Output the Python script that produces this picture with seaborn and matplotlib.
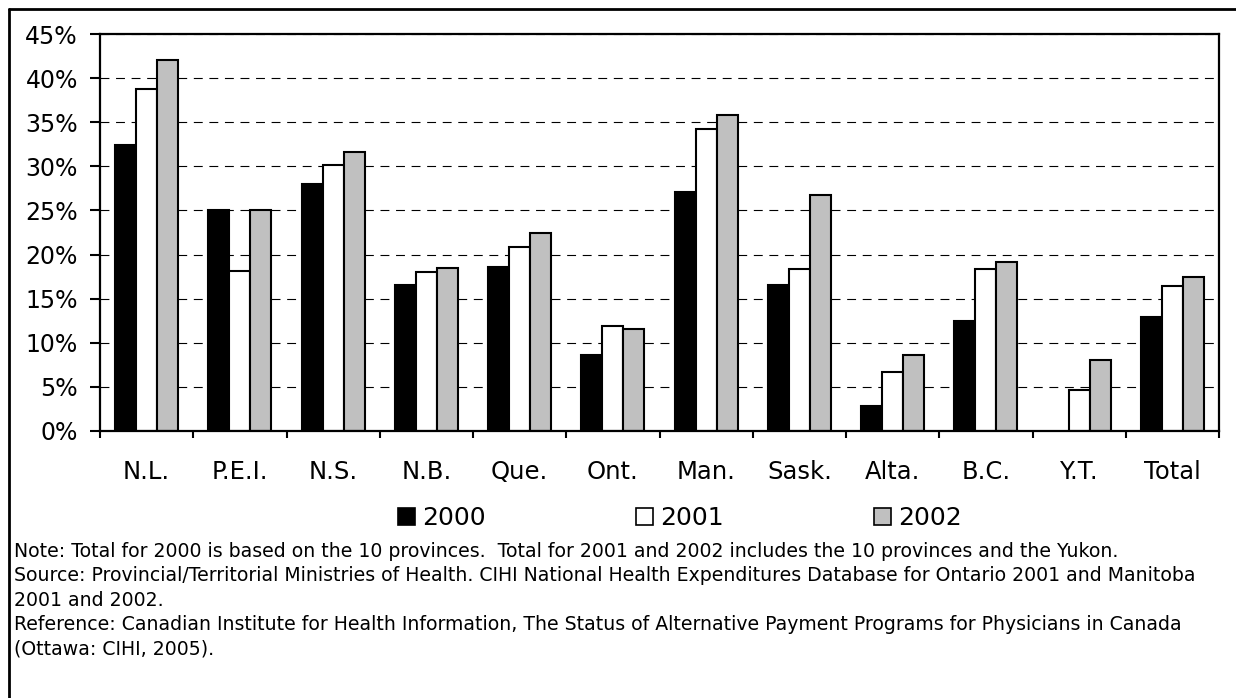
import numpy as np
import pandas as pd
import matplotlib
matplotlib.use("Agg")
import matplotlib.pyplot as plt
import seaborn as sns
from matplotlib.patches import Patch
from matplotlib.lines import Line2D
from matplotlib.ticker import FixedLocator, FuncFormatter

# ---- data ----
categories = ["N.L.", "P.E.I.", "N.S.", "N.B.", "Que.", "Ont.", "Man.",
              "Sask.", "Alta.", "B.C.", "Y.T.", "Total"]
years = ["2000", "2001", "2002"]
values_2000 = [32.4, 25.0, 28.0, 16.6, 18.6, 8.6, 27.1, 16.5, 2.8, 12.5, np.nan, 12.9]
values_2001 = [38.8, 18.1, 30.2, 18.0, 20.8, 11.9, 34.2, 18.4, 6.7, 18.4, 4.7, 16.4]
values_2002 = [42.1, 25.0, 31.6, 18.5, 22.5, 11.6, 35.8, 26.7, 8.6, 19.2, 8.0, 17.4]
y_ticks = [0, 5, 10, 15, 20, 25, 30, 35, 40, 45]
notes = [
    "Note: Total for 2000 is based on the 10 provinces.  Total for 2001 and 2002 includes the 10 provinces and the Yukon.",
    "Source: Provincial/Territorial Ministries of Health. CIHI National Health Expenditures Database for Ontario 2001 and Manitoba",
    "2001 and 2002.",
    "Reference: Canadian Institute for Health Information, The Status of Alternative Payment Programs for Physicians in Canada",
    "(Ottawa: CIHI, 2005).",
]
colors = {"2000": "#000000", "2001": "#FFFFFF", "2002": "#C0C0C0"}

df = pd.DataFrame({
    "Province": categories * 3,
    "Year": [y for y in years for _ in categories],
    "Value": values_2000 + values_2001 + values_2002,
})

sns.set_theme(style="white")
plt.rcParams["font.family"] = ["DejaVu Sans"]
plt.rcParams["text.color"] = "black"

W, H = 1236, 698
fig = plt.figure(figsize=(W / 100, H / 100), dpi=100)
ax = fig.add_axes([100 / W, (H - 431) / H, 1119 / W, 397 / H])

sns.barplot(data=df, x="Province", y="Value", hue="Year", order=categories,
            hue_order=years, palette=colors, saturation=1, edgecolor="black",
            linewidth=1.5, width=0.675, errorbar=None, legend=False, ax=ax)

ax.set_xlim(-0.5, len(categories) - 0.5)
ax.set_ylim(0, 45)
ax.set_xlabel("")
ax.set_ylabel("")

ax.yaxis.set_major_locator(FixedLocator(y_ticks))
ax.yaxis.set_major_formatter(FuncFormatter(lambda v, p: f"{int(v)}%"))
ax.set_axisbelow(True)
ax.yaxis.grid(True, linestyle=(0, (8, 6)), color="black", linewidth=0.8)
ax.xaxis.grid(False)

for s in ax.spines.values():
    s.set_color("black")
    s.set_linewidth(1.6)
    s.set_visible(True)

ax.tick_params(axis="y", which="major", direction="out", length=7, width=1.5,
               color="black", labelsize=17, pad=9, left=True)
ax.xaxis.set_minor_locator(FixedLocator(np.arange(-0.5, len(categories), 1.0)))
ax.tick_params(axis="x", which="major", length=0, labelsize=17.5, pad=21)
ax.tick_params(axis="x", which="minor", direction="out", length=5, width=1.5,
               color="black", bottom=True)
for lbl in ax.get_xticklabels() + ax.get_yticklabels():
    lbl.set_color("black")

handles = [Patch(facecolor=colors[y], edgecolor="black", linewidth=1.2, label=y)
           for y in years]
leg = fig.legend(handles=handles, labels=years, ncol=3, loc="center",
                 bbox_to_anchor=(680 / W, 1 - 518 / H), frameon=False, fontsize=18,
                 handlelength=0.68, handleheight=0.68, handletextpad=0.3,
                 columnspacing=6.0, borderpad=0, borderaxespad=0)
for t in leg.get_texts():
    t.set_color("black")

y0 = 557
for i, t in enumerate(notes):
    fig.text(14 / W, 1 - (y0 + 24.3 * i) / H, t, fontsize=13.6, color="black",
             ha="left", va="baseline")

fig.add_artist(Line2D([9 / W, 9 / W], [1 - 9 / H, 0], transform=fig.transFigure,
                      color="black", linewidth=2))
fig.add_artist(Line2D([9 / W, 1], [1 - 9 / H, 1 - 9 / H], transform=fig.transFigure,
                      color="black", linewidth=2))

fig.savefig("out.png", dpi=100, facecolor="white")
